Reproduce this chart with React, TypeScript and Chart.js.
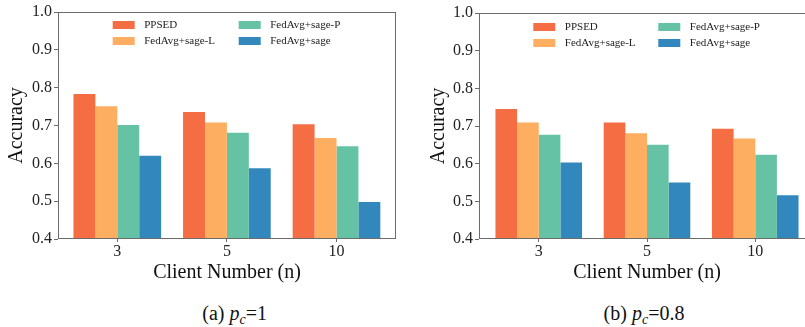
import React, { useEffect, useRef } from "react";
import { Chart, registerables } from "chart.js";

Chart.register(...registerables);

// ---- data ----
const categories = ["3", "5", "10"];
const seriesNames = ["PPSED", "FedAvg+sage-L", "FedAvg+sage-P", "FedAvg+sage"];
const seriesColors = ["#F46D43", "#FDAE61", "#66C2A5", "#3288BD"];
const yTickValues = [0.4, 0.5, 0.6, 0.7, 0.8, 0.9, 1.0];

// (a) p_c = 1
const ppsedA = [0.783, 0.736, 0.703];
const sageLA = [0.751, 0.708, 0.667];
const sagePA = [0.701, 0.681, 0.645];
const sageA = [0.62, 0.587, 0.498];

// (b) p_c = 0.8
const ppsedB = [0.745, 0.709, 0.693];
const sageLB = [0.709, 0.681, 0.667];
const sagePB = [0.677, 0.65, 0.624];
const sageB = [0.603, 0.55, 0.516];

const FONT = '"Liberation Serif", "Times New Roman", Times, serif';

type PanelCfg = {
  left: number;
  width: number;
  height: number;
  yAxisWidth: number;
  padTop: number;
  padRight: number;
  xMin: number;
  xMax: number;
  yTitlePad: number;
  legendDx: number;
  legendDy: number;
  legendColGap: number;
};

const legendPlugin = (dx: number, dy: number, colGap: number) => ({
  id: "gridLegend",
  afterDraw(chart: any) {
    const { ctx, chartArea } = chart;
    ctx.save();
    // frame (all four spines)
    ctx.strokeStyle = "#6b6b6b";
    ctx.lineWidth = 1;
    const l = Math.round(chartArea.left) + 0.5;
    const t = Math.round(chartArea.top) + 0.5;
    const r = Math.round(chartArea.right) - 0.5;
    const b = Math.round(chartArea.bottom) - 0.5;
    ctx.strokeRect(l, t, r - l, b - t);
    // legend, 2 columns filled column-wise
    ctx.font = `11px ${FONT}`;
    ctx.textBaseline = "middle";
    ctx.textAlign = "left";
    chart.data.datasets.forEach((ds: any, i: number) => {
      const col = Math.floor(i / 2);
      const row = i % 2;
      const x = chartArea.left + dx + col * colGap;
      const y = chartArea.top + dy + row * 16;
      ctx.fillStyle = ds.backgroundColor;
      ctx.fillRect(x, y - 4, 22, 8);
      ctx.fillStyle = "#222";
      ctx.fillText(ds.label, x + 31.5, y + 0.5);
    });
    ctx.restore();
  },
});

function Panel({ series, cfg }: { series: number[][]; cfg: PanelCfg }) {
  const ref = useRef<HTMLCanvasElement | null>(null);
  useEffect(() => {
    if (!ref.current) return;
    const chart = new Chart(ref.current, {
      type: "bar",
      data: {
        datasets: series.map((vals, si) => ({
          label: seriesNames[si],
          data: vals.map((v, i) => ({ x: i, y: v })),
          backgroundColor: seriesColors[si],
          borderWidth: 0,
          categoryPercentage: 0.8,
          barPercentage: 1.0,
        })),
      },
      options: {
        responsive: false,
        animation: false,
        devicePixelRatio: 1,
        layout: { padding: { top: cfg.padTop, right: cfg.padRight, left: 0, bottom: 0 } },
        plugins: { legend: { display: false }, tooltip: { enabled: false } },
        scales: {
          x: {
            type: "linear",
            offset: false,
            min: cfg.xMin,
            max: cfg.xMax,
            afterBuildTicks: (scale: any) => {
              scale.ticks = categories.map((_, i) => ({ value: i }));
            },
            afterFit: (scale: any) => {
              scale.height = cfg.height - 239;
            },
            ticks: {
              autoSkip: false,
              maxRotation: 0,
              padding: 0,
              color: "#222",
              font: { family: FONT, size: 16 },
              callback: (v: any) => categories[Math.round(Number(v))] ?? "",
            },
            grid: { offset: false, drawOnChartArea: false, drawTicks: true, tickLength: 3, color: "#6b6b6b" },
            border: { display: false },
            title: {
              display: true,
              text: "Client Number (n)",
              color: "#111",
              font: { family: FONT, size: 20 },
              padding: { top: 0, bottom: 10 },
            },
          },
          y: {
            min: 0.4,
            max: 1.0,
            afterBuildTicks: (scale: any) => {
              scale.ticks = yTickValues.map((v) => ({ value: v }));
            },
            afterFit: (scale: any) => {
              scale.width = cfg.yAxisWidth;
            },
            ticks: {
              padding: 2,
              color: "#222",
              font: { family: FONT, size: 16 },
              callback: (v: any) => Number(v).toFixed(1),
            },
            grid: { drawOnChartArea: false, drawTicks: true, tickLength: 4, color: "#6b6b6b" },
            border: { display: false },
            title: {
              display: true,
              text: "Accuracy",
              color: "#111",
              font: { family: FONT, size: 20 },
              padding: { top: cfg.yTitlePad, bottom: 0 },
            },
          },
        },
      },
      plugins: [legendPlugin(cfg.legendDx, cfg.legendDy, cfg.legendColGap)],
    } as any);
    return () => chart.destroy();
  }, []);
  return (
    <div style={{ position: "absolute", left: cfg.left, top: 0, width: cfg.width, height: cfg.height }}>
      <canvas ref={ref} width={cfg.width} height={cfg.height} style={{ display: "block", width: cfg.width, height: cfg.height }} />
    </div>
  );
}

const captionStyle = (cx: number): React.CSSProperties => ({
  position: "absolute",
  left: cx - 100,
  top: 301,
  width: 200,
  textAlign: "center",
  fontFamily: FONT,
  fontSize: 20,
  lineHeight: "24px",
  color: "#111",
  whiteSpace: "nowrap",
});

export default function App() {
  const cfgA: PanelCfg = {
    left: 0,
    width: 400,
    height: 295,
    yAxisWidth: 58,
    padTop: 12,
    padRight: 4,
    xMin: -0.541,
    xMax: 2.543,
    yTitlePad: 4.5,
    legendDx: 54.7,
    legendDy: 13,
    legendColGap: 126,
  };
  const cfgB: PanelCfg = {
    left: 400,
    width: 420,
    height: 295,
    yAxisWidth: 79,
    padTop: 13,
    padRight: 5,
    xMin: -0.552,
    xMax: 2.552,
    yTitlePad: 27,
    legendDx: 54.3,
    legendDy: 14,
    legendColGap: 125,
  };
  return (
    <div style={{ position: "absolute", left: 0, top: 0, width: 805, height: 327, overflow: "hidden", background: "#fff" }}>
      <Panel series={[ppsedA, sageLA, sagePA, sageA]} cfg={cfgA} />
      <Panel series={[ppsedB, sageLB, sagePB, sageB]} cfg={cfgB} />
      <div style={captionStyle(234.7)}>
        (a) <i>p<sub style={{ fontSize: "0.7em", verticalAlign: "-0.25em" }}>c</sub></i>=1
      </div>
      <div style={captionStyle(644)}>
        (b) <i>p<sub style={{ fontSize: "0.7em", verticalAlign: "-0.25em" }}>c</sub></i>=0.8
      </div>
    </div>
  );
}
